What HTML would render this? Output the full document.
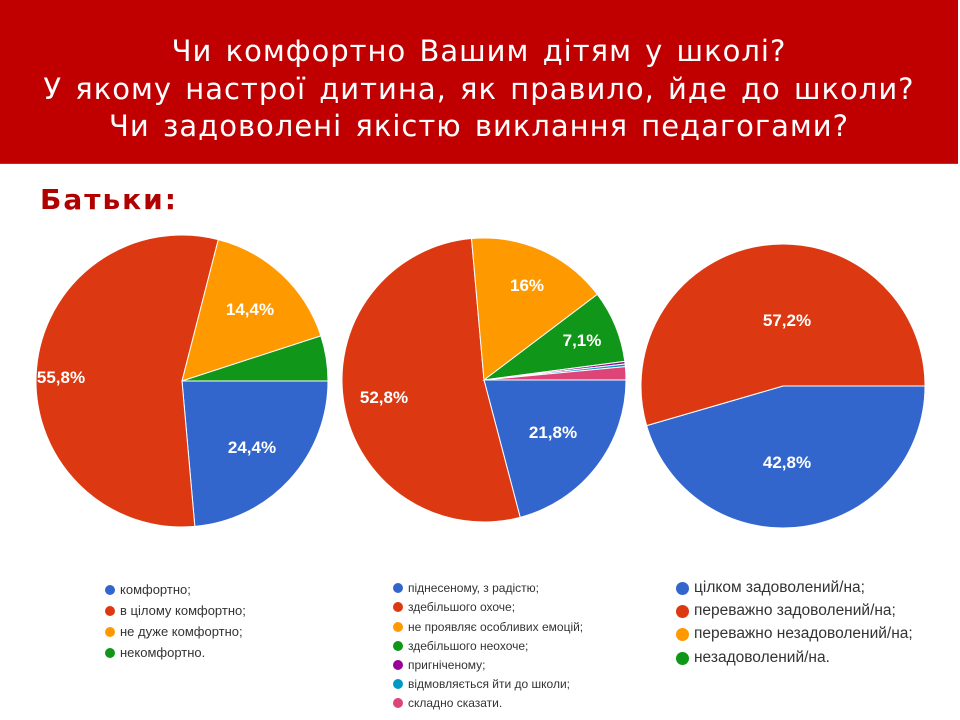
<!DOCTYPE html><html><head><meta charset="utf-8"><style>
body{margin:0;width:960px;height:720px;background:#fff;overflow:hidden;font-family:"Liberation Sans",sans-serif;position:relative}
.hd{position:absolute;left:0;top:0;width:958px;height:164px;background:#c00000;border-bottom:1px solid #6a4a7a;color:#fff;text-align:center;font-family:"DejaVu Sans",sans-serif;font-size:29px;letter-spacing:1px;word-spacing:3px;line-height:37.5px;padding-top:33px;box-sizing:border-box;white-space:nowrap}
.bt{position:absolute;left:40px;top:183px;color:#b00000;font-weight:bold;font-size:28px;letter-spacing:2px;font-family:"DejaVu Sans",sans-serif}
.lg{position:absolute;color:#333}
.lg div{position:absolute;white-space:nowrap}
.lg span{position:absolute;border-radius:50%}
</style></head><body>
<div class="hd">Чи комфортно Вашим дітям у школі?<br>У якому настрої дитина, як правило, йде до школи?<br>Чи задоволені якістю виклання педагогами?</div>
<div class="bt">Батьки:</div>
<svg id="s" width="960" height="720" style="position:absolute;left:0;top:0">
<g id="p"></g>
<g fill="#fff" font-weight="bold" font-size="17" text-anchor="middle" font-family="Liberation Sans,sans-serif">
<text x="252" y="453">24,4%</text><text x="61" y="383">55,8%</text><text x="250" y="315">14,4%</text>
<text x="527" y="291">16%</text><text x="582" y="346">7,1%</text><text x="384" y="403">52,8%</text><text x="553" y="438">21,8%</text>
<text x="787" y="326">57,2%</text><text x="787" y="468">42,8%</text>
</g></svg>
<div class="lg" id="l1" style="font-size:13px"></div>
<div class="lg" id="l2" style="font-size:12px"></div>
<div class="lg" id="l3" style="font-size:15.5px"></div>
<script>
var B='#3366cc',R='#dc3912',O='#ff9900',G='#109618',P='#990099',T='#0099c6',K='#dd4477';
function pie(cx,cy,r,d){var a=0,s='';d.forEach(function(x){var b=a+x[0]/100*2*Math.PI;
var x1=cx+r*Math.cos(a),y1=cy+r*Math.sin(a),x2=cx+r*Math.cos(b),y2=cy+r*Math.sin(b);
s+='<path d="M'+cx+','+cy+'L'+x1+','+y1+'A'+r+','+r+' 0 '+(b-a>Math.PI?1:0)+' 1 '+x2+','+y2+'Z" fill="'+x[1]+'" stroke="#fff" stroke-width="1"/>';a=b;});return s;}
document.getElementById('p').innerHTML=pie(182,381,146,[[23.6,B],[55.4,R],[16,O],[5,G]])+
pie(484,380,142,[[20.9,B],[52.7,R],[16.1,O],[8.2,G],[0.3,P],[0.3,T],[1.5,K]])+
pie(783,386,142,[[45.5,B],[54.5,R]]);
function lg(id,x,ys,ds,items,cols){var h='';items.forEach(function(t,i){h+='<span style="left:'+x+'px;top:'+(ys[i]-ds/2)+'px;width:'+ds+'px;height:'+ds+'px;background:'+cols[i]+'"></span><div style="left:'+(x+ds+5)+'px;top:'+(ys[i]-9)+'px;line-height:18px">'+t+'</div>';});document.getElementById(id).innerHTML=h;}
lg('l1',105,[590,611,632,653],10,['комфортно;','в цілому комфортно;','не дуже комфортно;','некомфортно.'],[B,R,O,G]);
lg('l2',393,[588,607,627,646,665,684,703],10,['піднесеному, з радістю;','здебільшого охоче;','не проявляє особливих емоцій;','здебільшого неохоче;','пригніченому;','відмовляється йти до школи;','складно сказати.'],[B,R,O,G,P,T,K]);
lg('l3',676,[588,611,634,658],13,['цілком задоволений/на;','переважно задоволений/на;','переважно незадоволений/на;','незадоволений/на.'],[B,R,O,G]);
</script>
</body></html>
